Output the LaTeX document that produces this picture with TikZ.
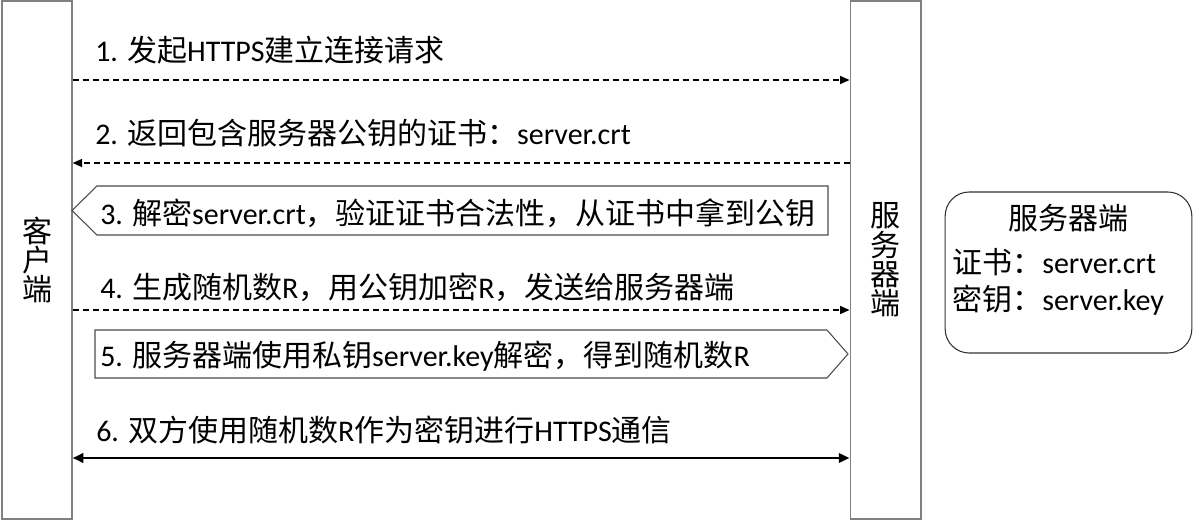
\documentclass[tikz,border=0pt]{standalone}
\usepackage{fontspec}
\setmainfont{Carlito}
\newfontfamily\cjk{Noto Sans CJK SC}
\usetikzlibrary{arrows.meta,positioning}

\begin{document}
\begin{tikzpicture}[x=0.75pt, y=-0.75pt]
                \tikzstyle{every node} = [font=\fontsize{22.5}{27}\selectfont, inner sep=0pt];
                \tikzstyle{lifeline} = [draw=black!50, line width=1pt, align=center, font=\fontsize{22.5}{22}\selectfont\cjk];
                \tikzstyle{msg} = [dashed, dash pattern=on 4.5pt off 3pt, line width=0.9pt, -{Triangle[length=7pt,width=6pt]}];
                \tikzstyle{stepbox} = [draw=black!70, line width=0.8pt];
                \tikzstyle{msgtext} = [anchor=west];

                \useasboundingbox (0,0) rectangle (1193,520);

                \node[lifeline, minimum width=52.5pt, minimum height=388.5pt](C) at (37,260) {客\\户\\端};
                \node[lifeline, minimum width=53pt, minimum height=388.5pt](S) at (885.5,260) {服\\务\\器\\端};
                \node[draw=black!80, line width=0.8pt, rounded corners=18pt, minimum width=185pt, minimum height=120.75pt](K) at (1068.5,272.5) {};

                \node(K1) at (1068,218) {\cjk 服务器端};
                \node[msgtext](K2) at (952,262) {{\cjk 证书：}server.crt};
                \node[msgtext](K3) at (952,300) {{\cjk 密钥：}server.key};

                \coordinate (y1) at (0,80);
                \coordinate (y2) at (0,163);
                \coordinate (y4) at (0,310);
                \coordinate (y6) at (0,458);

                % messages
                \node[msgtext](M1) at (95,50) {1. {\cjk 发起}HTTPS{\cjk 建立连接请求}};
                \node[msgtext](M2) at (95,133) {2. {\cjk 返回包含服务器公钥的证书：}server.crt};
                \node[msgtext](M4) at (100,287) {4. {\cjk 生成随机数}R{\cjk ，用公钥加密}R{\cjk ，发送给服务器端}};
                \node[msgtext](M6) at (96,430) {6. {\cjk 双方使用随机数}R{\cjk 作为密钥进行}HTTPS{\cjk 通信}};

                \draw[msg] (C.east |- y1) -- (S.west |- y1);
                \draw[msg] (S.west |- y2) -- (C.east |- y2);
                \draw[msg] (C.east |- y4) -- (S.west |- y4);
                \draw[line width=1.8pt, {Triangle[length=8pt,width=7pt]}-{Triangle[length=8pt,width=7pt]}] (C.east |- y6) -- (S.west |- y6);

                % local steps
                \draw[stepbox] (72,210.5) -- (97,186) -- (828,186) -- (828,235) -- (97,235) -- cycle;
                \node[msgtext](M3) at (100,213) {3. {\cjk 解密}server.crt{\cjk ，验证证书合法性，从证书中拿到公钥}};
                \draw[stepbox] (95,330) -- (827,330) -- (848,354) -- (827,378) -- (95,378) -- cycle;
                \node[msgtext](M5) at (100,356) {5. {\cjk 服务器端使用私钥}server.key{\cjk 解密，得到随机数}R};
            \end{tikzpicture}
\end{document}
